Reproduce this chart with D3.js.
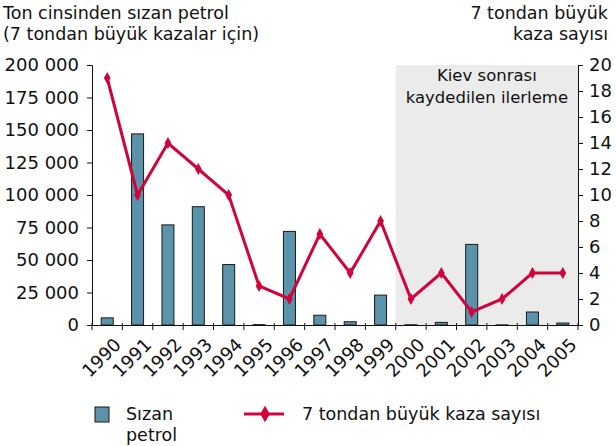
<!DOCTYPE html>
<html><head><meta charset="utf-8">
<script src="https://cdn.jsdelivr.net/npm/d3@7"></script>
<style>body{margin:0;background:#fff}svg{display:block}text{font-family:"DejaVu Sans",Verdana,sans-serif;fill:#111}</style>
</head><body><svg id="c" width="616" height="446"></svg>
<script>
const years = ["1990","1991","1992","1993","1994","1995","1996","1997","1998","1999","2000","2001","2002","2003","2004","2005"];
const spilled = [5500,147000,77000,91000,46500,300,72000,7500,2500,23000,200,2000,62000,100,10000,1500];
const accidents = [19,10,14,12,10,3,2,7,4,8,2,4,1,2,4,4];
const leftTicks = [0,25000,50000,75000,100000,125000,150000,175000,200000];
const rightTicks = [0,2,4,6,8,10,12,14,16,18,20];
const shadeFrom = "2000";

const svg = d3.select("#c");
const L=92, R=578, T=65, B=325;
const xb = d3.scaleBand().domain(years).range([L,R]);
const yL = d3.scaleLinear().domain([0,200000]).range([B,T]);
const yR = d3.scaleLinear().domain([0,20]).range([B,T]);
const fmt = v => d3.format(",")(v).replace(/,/g," ");

// shaded region
svg.append("rect").attr("x",xb(shadeFrom)).attr("y",T).attr("width",R-xb(shadeFrom)).attr("height",B-T).attr("fill","#ebebeb");
svg.append("text").attr("x",(xb(shadeFrom)+R)/2).attr("y",81).attr("text-anchor","middle").attr("font-size",16.5).text("Kiev sonrası");
svg.append("text").attr("x",(xb(shadeFrom)+R)/2).attr("y",103).attr("text-anchor","middle").attr("font-size",16.5).text("kaydedilen ilerleme");

// bars
svg.selectAll("rect.bar").data(years).enter().append("rect").attr("class","bar")
  .attr("x",d=>xb(d)+xb.bandwidth()/2-6).attr("width",12)
  .attr("y",(d,i)=>yL(spilled[i])).attr("height",(d,i)=>B-yL(spilled[i]))
  .attr("fill","#5a93aa").attr("stroke","#1a1a1a").attr("stroke-width",1);

// axes
const ga = svg.append("g").attr("transform",`translate(${L},0)`).call(d3.axisLeft(yL).tickValues(leftTicks).tickFormat(fmt).tickSize(5).tickPadding(8));
const gr = svg.append("g").attr("transform",`translate(${R},0)`).call(d3.axisRight(yR).tickValues(rightTicks).tickSize(5).tickPadding(6));
const gx = svg.append("g").attr("transform",`translate(0,${B})`).call(d3.axisBottom(xb).tickSize(0).tickFormat(""));
[ga,gr].forEach(g=>{g.selectAll("text").attr("font-size",18).style("font-family","DejaVu Sans");g.selectAll("line,path").attr("stroke","#111");});
gx.select("path").attr("stroke","#111");
const bounds = years.map(y=>xb(y)).concat([R]);
svg.selectAll("line.xt").data(bounds).enter().append("line").attr("x1",d=>d).attr("x2",d=>d).attr("y1",B-2).attr("y2",B+5).attr("stroke","#111");
svg.selectAll("text.xl").data(years).enter().append("text")
  .attr("transform",d=>`translate(${xb(d)+xb.bandwidth()/2+6},${B+12}) rotate(-45)`)
  .attr("text-anchor","end").attr("dy","0.7em").attr("font-size",18).text(d=>d);

// line
const line = d3.line().x((d,i)=>xb(years[i])+xb.bandwidth()/2).y(d=>yR(d));
svg.append("path").datum(accidents).attr("d",line).attr("fill","none").attr("stroke","#d0043c").attr("stroke-width",3);
const diamond = d3.symbol().type(d3.symbolDiamond).size(40);
svg.selectAll("path.pt").data(accidents).enter().append("path")
  .attr("transform",(d,i)=>`translate(${xb(years[i])+xb.bandwidth()/2},${yR(d)})`).attr("d",diamond).attr("fill","#d0043c");

// titles
svg.append("text").attr("x",3).attr("y",19).attr("font-size",17.5).text("Ton cinsinden sızan petrol");
svg.append("text").attr("x",3).attr("y",40).attr("font-size",17.5).text("(7 tondan büyük kazalar için)");
svg.append("text").attr("x",608).attr("y",19).attr("text-anchor","end").attr("font-size",17.5).text("7 tondan büyük");
svg.append("text").attr("x",608).attr("y",40).attr("text-anchor","end").attr("font-size",17.5).text("kaza sayısı");

// legend
svg.append("rect").attr("x",95).attr("y",407).attr("width",14).attr("height",15).attr("fill","#5a93aa").attr("stroke","#1a1a1a");
svg.append("text").attr("x",126).attr("y",420).attr("font-size",17.5).text("Sızan");
svg.append("text").attr("x",126).attr("y",441).attr("font-size",17.5).text("petrol");
svg.append("line").attr("x1",244).attr("x2",284).attr("y1",414).attr("y2",414).attr("stroke","#d0043c").attr("stroke-width",3);
svg.append("path").attr("transform","translate(265,414)").attr("d",d3.symbol().type(d3.symbolDiamond).size(80)).attr("fill","#d0043c");
svg.append("text").attr("x",302).attr("y",420).attr("font-size",17.5).text("7 tondan büyük kaza sayısı");
</script></body></html>
